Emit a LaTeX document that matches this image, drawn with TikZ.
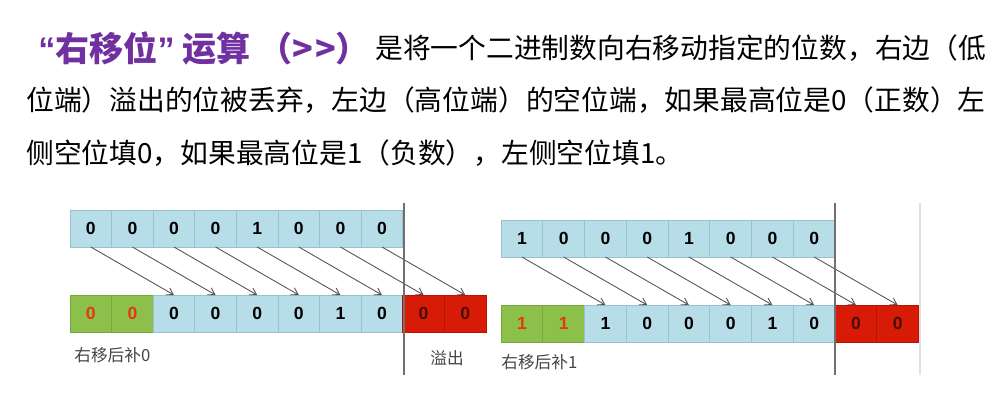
\documentclass[tikz,border=0pt]{standalone}
\usepackage{fontspec}
\setmainfont{Noto Sans CJK SC}
\newfontfamily\digitfont{Liberation Sans}
\usepackage{xcolor}
\definecolor{titlepurple}{HTML}{7030A0}
\definecolor{cellblue}{HTML}{B7DDE8}
\definecolor{celledge}{HTML}{98C2CF}
\definecolor{fillgreen}{HTML}{8DC04B}
\definecolor{greenedge}{HTML}{78A83E}
\definecolor{dropred}{HTML}{D81B06}
\definecolor{rededge}{HTML}{B81404}
\definecolor{bitorange}{HTML}{E03A10}
\definecolor{bitdark}{HTML}{4A0E04}
\definecolor{arrowgray}{HTML}{555555}
\definecolor{splitgray}{HTML}{707070}
\definecolor{labelgray}{HTML}{444444}
\usetikzlibrary{arrows.meta}

\begin{document}
\begin{tikzpicture}[
  x=0.02cm, y=-0.02cm,
  bitcell/.style={
    draw=celledge, fill=cellblue, line width=0.5pt,
    minimum width=0.834cm, minimum height=0.74cm,
    inner sep=0pt, outer sep=0pt,
    font=\digitfont\bfseries\fontsize{10}{12}\selectfont
  },
  padcell/.style={bitcell, draw=greenedge, fill=fillgreen, text=bitorange},
  lostcell/.style={bitcell, draw=rededge, fill=dropred, text=bitdark},
  arr/.style={-{Straight Barb[length=1.3mm, width=1.6mm]}, arrowgray, line width=0.5pt},
  cutline/.style={splitgray, line width=0.8pt},
  labeltext/.style={anchor=west, inner sep=0pt, text=labelgray,
    font=\fontsize{9.5}{11}\selectfont},
  bodytext/.style={anchor=west, inner sep=0pt, font=\fontsize{15.8}{18}\selectfont}
]
  \useasboundingbox (0,0) rectangle (1000,401);

  % heading text
  \node[anchor=west, inner sep=0pt, text=titlepurple,
    font=\bfseries\fontsize{19.4}{22}\selectfont] (headline) at (38,48)
    {{\digitfont“}右移位{\digitfont”} 运算 （>\kern1pt>）};
  \node[bodytext] (lineone) at (375,48) {是将一个二进制数向右移动指定的位数，右边（低};
  \node[bodytext] (linetwo) at (26,100)
    {位端）溢出的位被丢弃，左边（高位端）的空位端，如果最高位是0（正数）左};
  \node[bodytext] (linethree) at (26,153)
    {侧空位填0，如果最高位是1（负数），左侧空位填1。};

  % left: positive number
  \foreach \v [count=\i from 0] in {0,0,0,0,1,0,0,0}
    \node[bitcell] (lt\i) at (90.8+41.6*\i, 228.5) {\v};
  \foreach \v [count=\i from 0] in {0,0}
    \node[padcell] (lb\i) at (90.8+41.6*\i, 313.5) {\v};
  \foreach \v [count=\i from 2] in {0,0,0,0,1,0}
    \node[bitcell] (lb\i) at (90.8+41.6*\i, 313.5) {\v};
  \foreach \v [count=\i from 8] in {0,0}
    \node[lostcell] (lb\i) at (90.8+41.6*\i, 313.5) {\v};
  \foreach \i [evaluate=\i as \j using int(\i+2)] in {0,...,7}
    \draw[arr] (lt\i.south) -- (lb\j.north);

  \coordinate (lcutTop) at (404,203);
  \coordinate (lcutBot) at (404,375);
  \draw[cutline] (lcutTop) -- (lcutBot);
  \node[labeltext] (padzero) at (74,355) {右移后补0};
  \node[labeltext] (overflow) at (430,358) {溢出};

  % right: negative number
  \foreach \v [count=\i from 0] in {1,0,0,0,1,0,0,0}
    \node[bitcell] (rt\i) at (521.9+41.75*\i, 238.5) {\v};
  \foreach \v [count=\i from 0] in {1,1}
    \node[padcell] (rb\i) at (521.9+41.75*\i, 323.5) {\v};
  \foreach \v [count=\i from 2] in {1,0,0,0,1,0}
    \node[bitcell] (rb\i) at (521.9+41.75*\i, 323.5) {\v};
  \foreach \v [count=\i from 8] in {0,0}
    \node[lostcell] (rb\i) at (521.9+41.75*\i, 323.5) {\v};
  \foreach \i [evaluate=\i as \j using int(\i+2)] in {0,...,7}
    \draw[arr] (rt\i.south) -- (rb\j.north);

  \coordinate (rcutTop) at (835,203);
  \coordinate (rcutBot) at (835,375);
  \draw[cutline] (rcutTop) -- (rcutBot);
  \coordinate (redgeTop) at (920,203);
  \coordinate (redgeBot) at (920,375);
  \draw[black!12, line width=0.8pt] (redgeTop) -- (redgeBot);
  \node[labeltext] (padone) at (501,362) {右移后补1};
\end{tikzpicture}
\end{document}
